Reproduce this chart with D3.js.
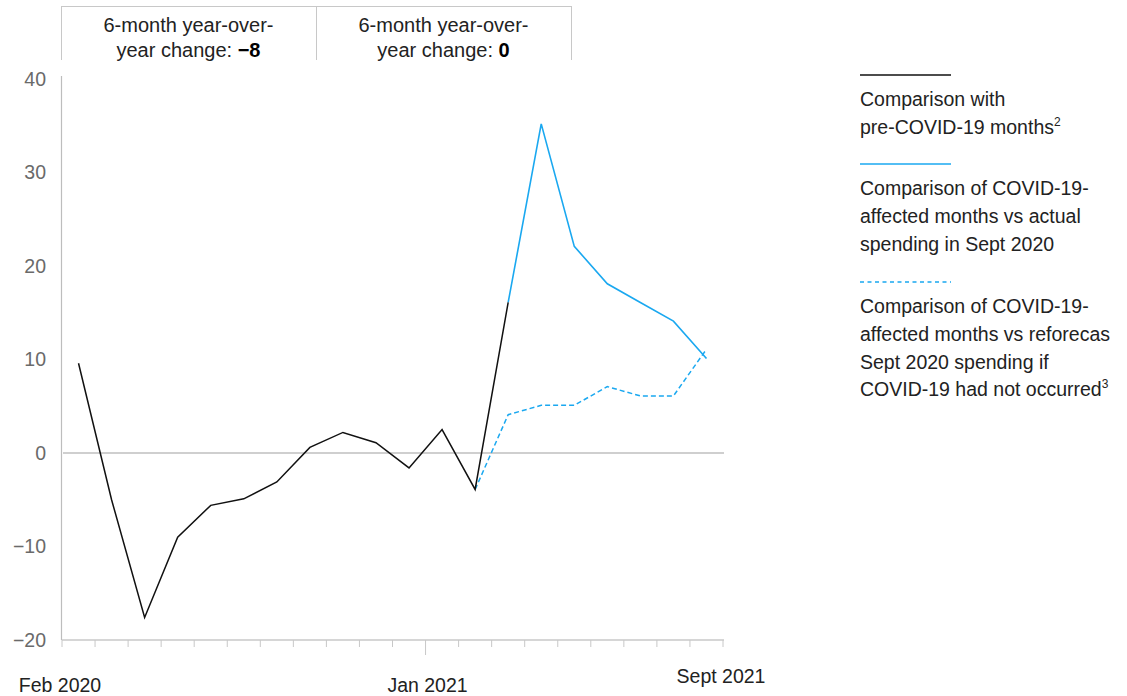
<!DOCTYPE html>
<html>
<head>
<meta charset="utf-8">
<script src="https://cdn.jsdelivr.net/npm/d3@7"></script>
<style>
  html, body { margin: 0; padding: 0; background: #fff; }
  svg { display: block; font-family: "Liberation Sans", Arial, sans-serif; }
</style>
</head>
<body>
<svg id="chart" width="1127" height="696"></svg>
<script>
// ---- data ----
const months = ["Feb 2020","Mar 2020","Apr 2020","May 2020","Jun 2020","Jul 2020","Aug 2020","Sep 2020","Oct 2020","Nov 2020","Dec 2020",
                "Jan 2021","Feb 2021","Mar 2021","Apr 2021","May 2021","Jun 2021","Jul 2021","Aug 2021","Sept 2021"];
const preCovidMonths = months.slice(0, 14);
const preCovidValues = [9.6, -5, -17.6, -9, -5.6, -4.9, -3.1, 0.6, 2.2, 1.1, -1.6, 2.5, -3.9, 16.1];
const actualMonths = months.slice(13);
const actualValues = [16.1, 35.2, 22.1, 18.1, 16.1, 14.1, 10.1];
const reforecastMonths = months.slice(12);
const reforecastValues = [-3.9, 4.1, 5.1, 5.1, 7.1, 6.1, 6.1, 11.1];
const yTicks = [-20, -10, 0, 10, 20, 30, 40];
const xLabels = ["Feb 2020", "Jan 2021", "Sept 2021"];
const headerBoxes = [
  { line1: "6-month year-over-", line2: "year change: ", value: "\u22128" },
  { line1: "6-month year-over-", line2: "year change: ", value: "0" }
];
const legendItems = [
  { lines: ["Comparison with", "pre-COVID-19 months"], sup: "2", dashed: false, color: "#111" },
  { lines: ["Comparison of COVID-19-", "affected months vs actual", "spending in Sept 2020"], sup: null, dashed: false, color: "#1aa8f0" },
  { lines: ["Comparison of COVID-19-", "affected months vs reforecas", "Sept 2020 spending if", "COVID-19 had not occurred"], sup: "3", dashed: true, color: "#1aa8f0" }
];

// ---- layout ----
const svg = d3.select("#chart");
const pLeft = 62, pRight = 723, pTop = 79, pBottom = 640;
const BLUE = "#1aa8f0";

const x = d3.scaleBand().domain(months).range([pLeft, pRight]).paddingInner(0).paddingOuter(0);
const cx = m => x(m) + x.bandwidth() / 2;
const y = d3.scaleLinear().domain([-20, 40]).range([pBottom, pTop]);

// header boxes
const boxW = (571 - 61) / 2;
headerBoxes.forEach((b, i) => {
  const bx = 61 + i * boxW;
  const g = svg.append("g");
  g.append("line").attr("x1", bx).attr("x2", bx + boxW).attr("y1", 6.5).attr("y2", 6.5).attr("stroke", "#c8c8c8").attr("stroke-width", 1);
  g.append("line").attr("x1", bx + 0.5).attr("x2", bx + 0.5).attr("y1", 6).attr("y2", 60).attr("stroke", "#c8c8c8");
  if (i === headerBoxes.length - 1)
    g.append("line").attr("x1", bx + boxW + 0.5).attr("x2", bx + boxW + 0.5).attr("y1", 6).attr("y2", 60).attr("stroke", "#c8c8c8");
  g.append("text").attr("x", bx + boxW / 2).attr("y", 32).attr("text-anchor", "middle")
    .attr("font-size", 20).attr("fill", "#222").text(b.line1);
  const t = g.append("text").attr("x", bx + boxW / 2).attr("y", 57).attr("text-anchor", "middle")
    .attr("font-size", 20).attr("fill", "#222");
  t.append("tspan").text(b.line2);
  t.append("tspan").attr("font-weight", "bold").attr("fill", "#000").text(b.value);
});

// y axis
svg.append("line").attr("x1", pLeft - 0.5).attr("x2", pLeft - 0.5).attr("y1", 76).attr("y2", pBottom)
  .attr("stroke", "#bdbdbd").attr("stroke-width", 1.2);
svg.append("g").selectAll("text").data(yTicks).join("text")
  .attr("x", 46).attr("y", d => y(d)).attr("dy", "0.35em").attr("text-anchor", "end")
  .attr("font-size", 19.5).attr("fill", "#6a6a6a")
  .text(d => d < 0 ? "\u2212" + Math.abs(d) : d);

// zero line
svg.append("line").attr("x1", pLeft + 1).attr("x2", pRight + 1).attr("y1", y(0)).attr("y2", y(0))
  .attr("stroke", "#cfcfcf").attr("stroke-width", 2);

// x axis
svg.append("line").attr("x1", pLeft).attr("x2", pRight + 1).attr("y1", pBottom).attr("y2", pBottom)
  .attr("stroke", "#c8c8c8").attr("stroke-width", 1.5);
const tickPos = months.map(m => x(m)).concat([pRight]);
svg.append("g").selectAll("line").data(tickPos).join("line")
  .attr("x1", d => d).attr("x2", d => d).attr("y1", pBottom)
  .attr("y2", (d, i) => i === 11 ? pBottom + 15 : pBottom + 7)
  .attr("stroke", "#c8c8c8").attr("stroke-width", 1);

// x labels
const xLabelPos = {
  "Feb 2020": { x: x("Feb 2020") - 2, y: 692 },
  "Jan 2021": { x: x("Jan 2021") + 2, y: 692 },
  "Sept 2021": { x: 721, y: 683 }
};
svg.append("g").selectAll("text").data(xLabels).join("text")
  .attr("x", d => xLabelPos[d].x).attr("y", d => xLabelPos[d].y)
  .attr("text-anchor", "middle").attr("font-size", 19.5).attr("fill", "#222")
  .text(d => d);

// lines
const line = d3.line().x(d => cx(d[0])).y(d => y(d[1]));
svg.append("path").datum(d3.zip(reforecastMonths, reforecastValues)).attr("d", line)
  .attr("fill", "none").attr("stroke", BLUE).attr("stroke-width", 1.5).attr("stroke-dasharray", "5,3");
svg.append("path").datum(d3.zip(actualMonths, actualValues)).attr("d", line)
  .attr("fill", "none").attr("stroke", BLUE).attr("stroke-width", 1.6);
svg.append("path").datum(d3.zip(preCovidMonths, preCovidValues)).attr("d", line)
  .attr("fill", "none").attr("stroke", "#111").attr("stroke-width", 1.5);

// legend
const lgX = 860;
const lineYs = [75, 164, 282];
legendItems.forEach((it, i) => {
  const ly = lineYs[i];
  svg.append("line").attr("x1", lgX).attr("x2", lgX + 91).attr("y1", ly).attr("y2", ly)
    .attr("stroke", it.color).attr("stroke-width", 1.5)
    .attr("stroke-dasharray", it.dashed ? "4,3.5" : null);
  it.lines.forEach((l, j) => {
    const t = svg.append("text").attr("x", lgX).attr("y", ly + 31 + j * 27.8)
      .attr("font-size", 19.5).attr("fill", "#222");
    t.append("tspan").text(l);
    if (it.sup && j === it.lines.length - 1)
      t.append("tspan").attr("font-size", 12).attr("dy", -8).text(it.sup);
  });
});
</script>
</body>
</html>
